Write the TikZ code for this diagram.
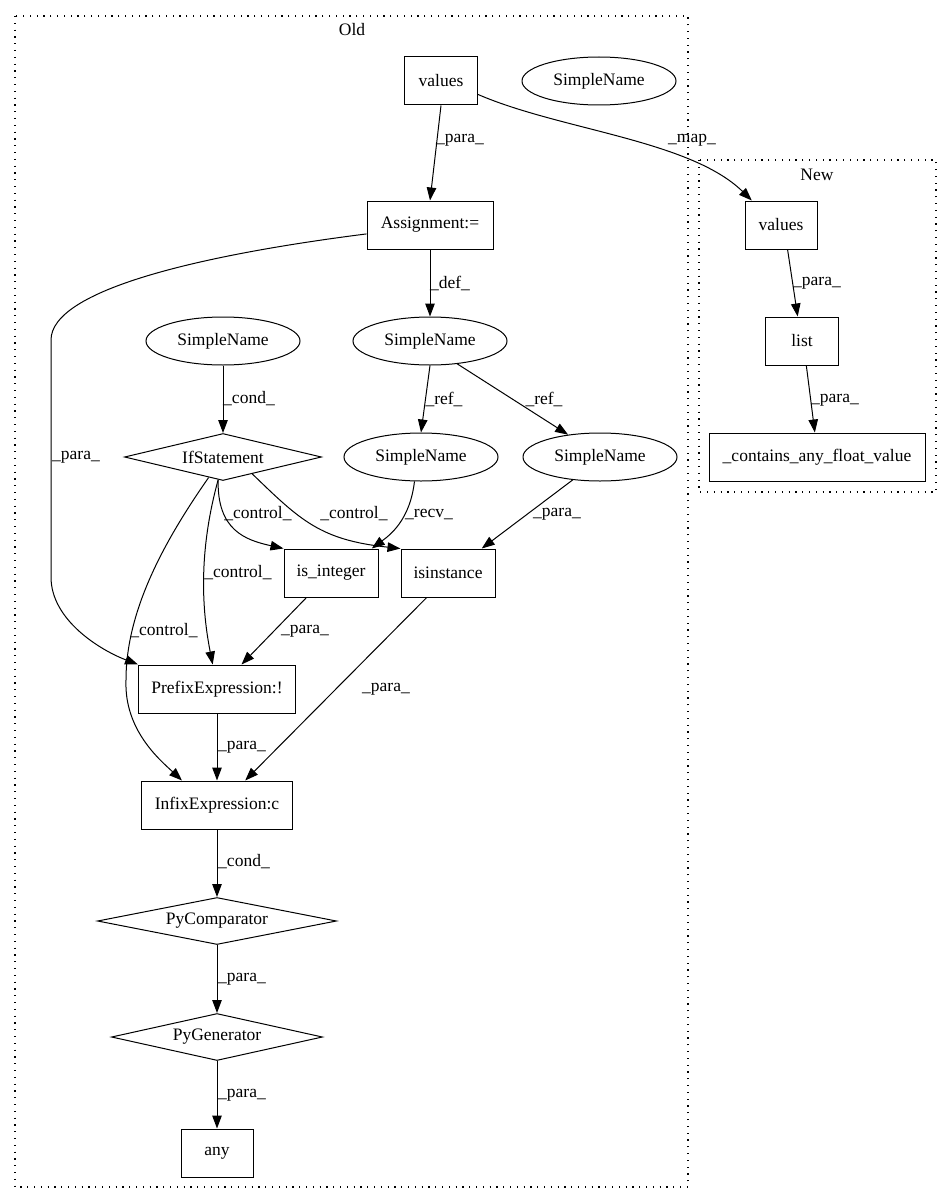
\documentclass[tikz,border=0pt]{standalone}
\usepackage{fontspec}
\setmainfont{Liberation Serif}
\usetikzlibrary{arrows.meta,shapes.geometric}

\begin{document}
\begin{tikzpicture}[x=1pt, y=-1pt, every node/.style={font=\fontsize{17.5}{20}\selectfont},
    box/.style={draw, line width=1pt, inner xsep=2pt, minimum height=48pt, minimum width=#1pt},
    sname/.style={draw, ellipse, line width=1pt, inner sep=0pt, minimum width=154pt, minimum height=48pt},
    cond/.style={draw, diamond, aspect=4.2, line width=1pt, inner sep=0pt, minimum width=#1pt, minimum height=47pt},
    flow/.style={-{Triangle[length=13pt,width=9.5pt]}, line width=1pt},
    lbl/.style={inner sep=0pt},
    cluster/.style={draw, line width=1.1pt, dash pattern=on 1.2pt off 5.6pt}]
    \useasboundingbox (0,0) rectangle (952,1204);
    % Clusters
    \draw[cluster] (15,16) rectangle (688,1187);
    \node (oldlbl) at (352,30) {Old};
    \draw[cluster] (699,160) rectangle (936,492);
    \node (newlbl) at (817,175) {New};
    % Old
    \node[box=73] (vals) at (441,81) {values};
    \node[sname] (sname) at (599,81) {SimpleName};
    \node[box=126] (assign) at (430,225) {Assignment:=};
    \node[sname] (sleft) at (223,341) {SimpleName};
    \node[sname] (sdef) at (430,341) {SimpleName};
    \node[cond=197] (ifs) at (223,457) {IfStatement};
    \node[sname] (sref) at (421,457) {SimpleName};
    \node[sname] (sarg) at (600,457) {SimpleName};
    \node[box=94] (isint) at (331,573) {is\_integer};
    \node[box=94] (isinst) at (448,573) {isinstance};
    \node[box=157] (prefix) at (217,689) {PrefixExpression:!};
    \node[box=151] (infix) at (217,805) {InfixExpression:c};
    \node[cond=239] (pycomp) at (217,921) {PyComparator};
    \node[cond=211] (pygen) at (217,1037) {PyGenerator};
    \node[box=72] (any) at (217,1153) {any};
    % New
    \node[box=72] (nvals) at (781,225) {values};
    \node[box=73] (nlist) at (802,341) {list};
    \node[box=216] (ncont) at (817,457) {\_contains\_any\_float\_value};
    % Edges
    \draw[flow] (vals.south) -- (assign.north);
    \draw[flow] (vals.-20) .. controls (560,130) and (690,140) .. (nvals.140);
    \draw[flow] (assign.south) -- (sdef.north);
    \draw[flow] (assign.188) .. controls (200,255) and (51,290) .. (51,340) -- (51,577) .. controls (51,620) and (100,650) .. (prefix.north west);
    \draw[flow] (sleft.south) -- (ifs.north);
    \draw[flow] (sdef.south) -- (sref.north);
    \draw[flow] (sdef.-40) -- (sarg.145);
    \draw[flow] (ifs.258) .. controls (217,530) and (245,540) .. (isint.north west);
    \draw[flow] (ifs.-30) .. controls (300,520) and (320,540) .. (isinst.north west);
    \draw[flow] (ifs.258) .. controls (196,560) and (204,620) .. (prefix.100);
    \draw[flow] (ifs.235) .. controls (165,540) and (126,610) .. (126,680) .. controls (124,730) and (160,760) .. (infix.145);
    \draw[flow] (sref.255) .. controls (410,520) and (390,535) .. (isint.31);
    \draw[flow] (sarg.220) -- (isinst.36);
    \draw[flow] (isint.225) -- (prefix.45);
    \draw[flow] (isinst.229) -- (infix.41);
    \draw[flow] (prefix.south) -- (infix.north);
    \draw[flow] (infix.south) -- (pycomp.north);
    \draw[flow] (pycomp.south) -- (pygen.north);
    \draw[flow] (pygen.south) -- (any.north);
    \draw[flow] (nvals.-75) -- (nlist.100);
    \draw[flow] (nlist.-80) -- (ncont.95);
    % Labels
    \node[lbl] (lvals) at (460,140) {\_para\_};
    \node[lbl] (lmap) at (692,140) {\_map\_};
    \node[lbl] (ldef) at (450,283) {\_def\_};
    \node[lbl] (lassign) at (76,457) {\_para\_};
    \node[lbl] (lcond) at (249,399) {\_cond\_};
    \node[lbl] (lref) at (444,399) {\_ref\_};
    \node[lbl] (larg) at (544,399) {\_ref\_};
    \node[lbl] (lctla) at (258,514) {\_control\_};
    \node[lbl] (lctlb) at (354,514) {\_control\_};
    \node[lbl] (lrecv) at (429,514) {\_recv\_};
    \node[lbl] (lparg) at (557,514) {\_para\_};
    \node[lbl] (lctlc) at (238,573) {\_control\_};
    \node[lbl] (lctld) at (164,631) {\_control\_};
    \node[lbl] (lisint) at (305,631) {\_para\_};
    \node[lbl] (lisinst) at (386,689) {\_para\_};
    \node[lbl] (lprefix) at (242,747) {\_para\_};
    \node[lbl] (linfix) at (244,862) {\_cond\_};
    \node[lbl] (lpycomp) at (242,979) {\_para\_};
    \node[lbl] (lpygen) at (242,1095) {\_para\_};
    \node[lbl] (lnvals) at (817,283) {\_para\_};
    \node[lbl] (lnlist) at (835,400) {\_para\_};
\end{tikzpicture}
\end{document}
